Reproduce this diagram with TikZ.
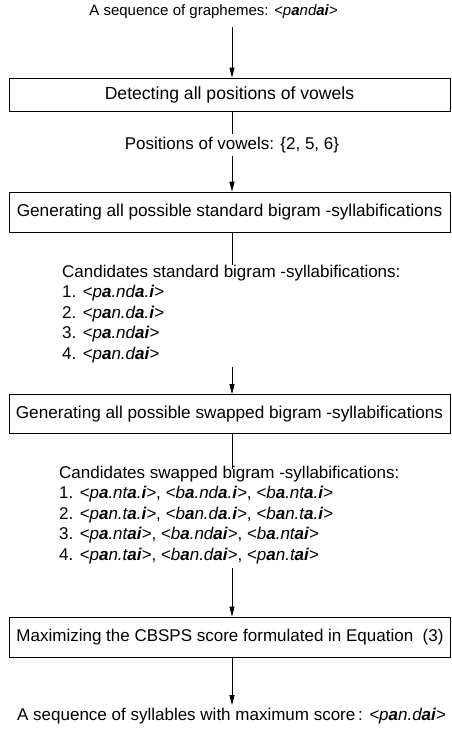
\documentclass[tikz,border=0pt]{standalone}
\usepackage{fontspec}
\setmainfont{Liberation Sans}
\usetikzlibrary{arrows.meta, positioning}
\newcommand{\vw}[1]{\textbf{#1}}
\newcommand{\syl}[1]{\textit{<#1>}}

\begin{document}
\begin{tikzpicture}[x=1pt, y=-1pt,
                  every node/.style={font=\fontsize{17}{20.4}\selectfont, inner sep=1mm},
                  stage/.style={draw, line width=0.8pt, minimum width=441pt, inner sep=0pt,
                                font=\fontsize{17.2}{20}\selectfont},
                  lst/.style={align=left, anchor=north west, inner sep=0pt},
                  ln/.style={line width=0.8pt},
                  arr/.style={ln, -{Triangle[length=10pt, width=5pt]}}]

    \useasboundingbox (0,0) rectangle (451,732); % size of the original figure

    \coordinate (ax) at (232,0); % x of the vertical flow line

    \node [font=\fontsize{15}{18}\selectfont] (in) at (213.5,12) {A sequence of graphemes: \syl{p\vw{a}nd\vw{ai}}};
    \node [stage, minimum height=33pt, font=\fontsize{17.6}{20}\selectfont] (det) at (229.5,94.5) {Detecting all positions of vowels};
    \node (pos) at (232,145) {Positions of vowels: \{2, 5, 6\}};
    \node [stage, minimum height=40pt] (gstd) at (229.5,212) {Generating all possible standard bigram -syllabifications};
    \node [lst] (cstd) at (62,265) {Candidates standard bigram -syllabifications:\\
        1. \syl{p\vw{a}.nd\vw{a}.\vw{i}}\\
        2. \syl{p\vw{a}n.d\vw{a}.\vw{i}}\\
        3. \syl{p\vw{a}.nd\vw{ai}}\\
        4. \syl{p\vw{a}n.d\vw{ai}}};
    \node [stage, minimum height=39pt] (gswp) at (229.5,414) {Generating all possible swapped bigram -syllabifications};
    \node [lst] (cswp) at (59,466) {Candidates swapped bigram -syllabifications:\\
        1. \syl{p\vw{a}.nt\vw{a}.\vw{i}}, \syl{b\vw{a}.nd\vw{a}.\vw{i}}, \syl{b\vw{a}.nt\vw{a}.\vw{i}}\\
        2. \syl{p\vw{a}n.t\vw{a}.\vw{i}}, \syl{b\vw{a}n.d\vw{a}.\vw{i}}, \syl{b\vw{a}n.t\vw{a}.\vw{i}}\\
        3. \syl{p\vw{a}.nt\vw{ai}}, \syl{b\vw{a}.nd\vw{ai}}, \syl{b\vw{a}.nt\vw{ai}}\\
        4. \syl{p\vw{a}n.t\vw{ai}}, \syl{b\vw{a}n.d\vw{ai}}, \syl{p\vw{a}n.t\vw{ai}}};
    \node [stage, minimum height=40pt, font=\fontsize{17}{20}\selectfont] (score) at (230,637) {Maximizing the CBSPS score formulated in Equation\ \ (3)};
    \node (out) at (231.5,716) {A sequence of syllables with maximum score\,: \syl{p\vw{a}n.d\vw{ai}}};

    \draw [arr, shorten <=5pt] (in.south -| ax) -- (det.north -| ax);
    \draw [ln] (det.south -| ax) -- (pos);
    \draw [arr] (pos) -- (gstd.north -| ax);
    \draw [ln] (gstd.south -| ax) -- (cstd.north -| ax);
    \draw [arr, shorten <=4pt] (cstd.south -| ax) -- (gswp.north -| ax);
    \draw [ln] (gswp.south -| ax) -- ([yshift=-3pt]cswp.north -| ax);
    \draw [arr, shorten <=4pt] (cswp.south -| ax) -- (score.north -| ax);
    \draw [arr] (score.south -| ax) -- (out.north -| ax);

\end{tikzpicture}
\end{document}
